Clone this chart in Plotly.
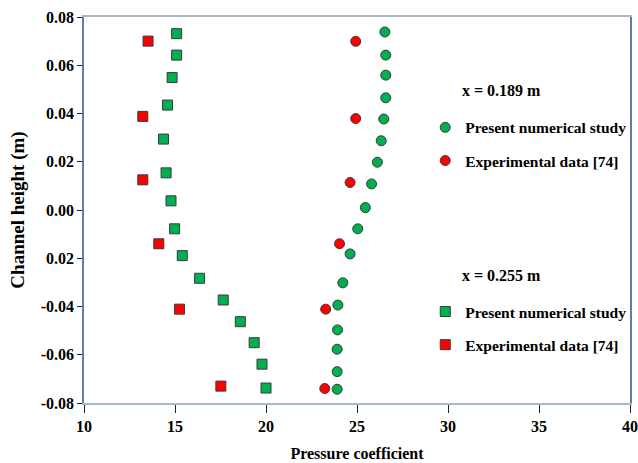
import plotly.graph_objects as go

# Pressure coefficient profiles across the channel height at two stations

# x = 0.189 m
num_189_cp = [26.53, 26.58, 26.58, 26.58, 26.47, 26.33, 26.12, 25.80, 25.46,
              25.04, 24.62, 24.22, 23.95, 23.93, 23.91, 23.91, 23.91]
num_189_h = [0.0738, 0.0642, 0.0559, 0.0465, 0.0377, 0.0287, 0.0198, 0.0108, 0.0010,
             -0.0078, -0.0182, -0.0302, -0.0394, -0.0497, -0.0577, -0.0670, -0.0743]
exp_189_cp = [24.93, 24.93, 24.62, 24.04, 23.28, 23.23]
exp_189_h = [0.0699, 0.0379, 0.0114, -0.0140, -0.0411, -0.0740]

# x = 0.255 m
num_255_cp = [15.09, 15.09, 14.84, 14.59, 14.37, 14.51, 14.78, 14.98, 15.40,
              16.35, 17.65, 18.59, 19.35, 19.78, 20.00]
num_255_h = [0.0731, 0.0642, 0.0549, 0.0435, 0.0294, 0.0154, 0.0038, -0.0078, -0.0189,
             -0.0283, -0.0373, -0.0463, -0.0550, -0.0639, -0.0738]
exp_255_cp = [13.52, 13.23, 13.23, 14.11, 15.25, 17.52]
exp_255_h = [0.0700, 0.0388, 0.0125, -0.0140, -0.0411, -0.0730]

x_ticks = [10, 15, 20, 25, 30, 35, 40]
y_ticks = [0.08, 0.06, 0.04, 0.02, 0.00, -0.02, -0.04, -0.06, -0.08]
y_tick_text = ["0.08", "0.06", "0.04", "0.02", "0.00", "0.02", "-0.04", "-0.06", "-0.08"]

FONT = "Liberation Serif"
GREEN = "#00b050"
RED = "#ff0000"
EDGE = dict(color="#3a3a3a", width=1)


def bold(s):
    return "<b>%s</b>" % s


fig = go.Figure()

fig.add_trace(go.Scatter(
    x=num_189_cp, y=num_189_h, mode="markers", name=bold("Present numerical study"),
    marker=dict(symbol="circle", size=10, color=GREEN, line=EDGE),
    legend="legend", legendgroup="a"))
fig.add_trace(go.Scatter(
    x=exp_189_cp, y=exp_189_h, mode="markers", name=bold("Experimental data [74]"),
    marker=dict(symbol="circle", size=10, color=RED, line=EDGE),
    legend="legend", legendgroup="b"))
fig.add_trace(go.Scatter(
    x=num_255_cp, y=num_255_h, mode="markers", name=bold("Present numerical study"),
    marker=dict(symbol="square", size=10, color=GREEN, line=EDGE),
    legend="legend2", legendgroup="c"))
fig.add_trace(go.Scatter(
    x=exp_255_cp, y=exp_255_h, mode="markers", name=bold("Experimental data [74]"),
    marker=dict(symbol="square", size=10, color=RED, line=EDGE),
    legend="legend2", legendgroup="d"))

legend_style = dict(
    xanchor="left", yanchor="top", tracegroupgap=10,
    font=dict(family=FONT, size=15.5, color="black"),
    bgcolor="rgba(0,0,0,0)", borderwidth=0,
)

fig.update_layout(
    width=638, height=463,
    margin=dict(l=84, r=8, t=17, b=60, autoexpand=False),
    paper_bgcolor="white", plot_bgcolor="white",
    font=dict(family=FONT, size=16, color="black"),
    showlegend=True,
    legend=dict(x=0.625, y=0.757, **legend_style),
    legend2=dict(x=0.625, y=0.280, **legend_style),
    xaxis=dict(
        range=[10, 40], tickmode="array", tickvals=x_ticks,
        ticktext=[bold(v) for v in x_ticks], automargin=False,
        showgrid=False, zeroline=False,
        showline=True, linecolor="#a7b7cc", linewidth=1.5, mirror=True,
        ticks="outside", ticklen=8, tickcolor="#222222", tickwidth=1,
        tickfont=dict(family=FONT, size=16, color="black"),
        title=dict(text=bold("Pressure coefficient"), standoff=14,
                   font=dict(family=FONT, size=16, color="black")),
    ),
    yaxis=dict(
        range=[-0.08, 0.08], tickmode="array", tickvals=y_ticks,
        ticktext=[bold(t) for t in y_tick_text], automargin=False,
        showgrid=False, zeroline=False,
        showline=True, linecolor="#5a7db3", linewidth=1.5, mirror=True,
        ticks="outside", ticklen=5, tickcolor="#222222", tickwidth=1,
        tickfont=dict(family=FONT, size=16, color="black"),
        title=dict(text=bold("Channel height (m)"), standoff=11,
                   font=dict(family=FONT, size=19, color="black")),
    ),
    annotations=[
        dict(text=bold("x = 0.189 m"), xref="paper", yref="paper", x=0.689, y=0.8096,
             xanchor="left", yanchor="middle", showarrow=False,
             font=dict(family=FONT, size=16, color="black")),
        dict(text=bold("x = 0.255 m"), xref="paper", yref="paper", x=0.689, y=0.3295,
             xanchor="left", yanchor="middle", showarrow=False,
             font=dict(family=FONT, size=16, color="black")),
    ],
)

fig.write_html("out.html")
